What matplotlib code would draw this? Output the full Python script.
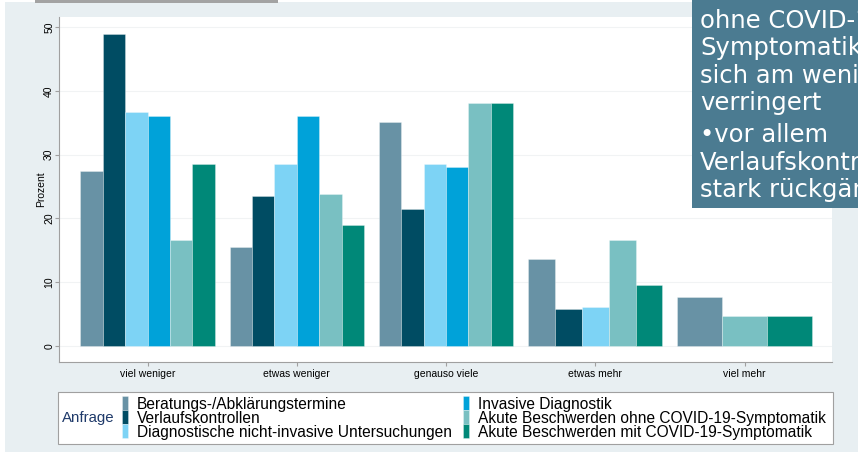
import numpy as np
import matplotlib
matplotlib.use('Agg')
import matplotlib.pyplot as plt
from matplotlib.patches import Rectangle

nan = np.nan
categories = ['viel weniger', 'etwas weniger', 'genauso viele', 'etwas mehr', 'viel mehr']
series_names = ['Beratungs-/Abklärungstermine',
                'Verlaufskontrollen',
                'Diagnostische nicht-invasive Untersuchungen',
                'Invasive Diagnostik',
                'Akute Beschwerden ohne COVID-19-Symptomatik',
                'Akute Beschwerden mit COVID-19-Symptomatik']
beratung = [27.4, 15.6, 35.2, 13.6, 7.7]
verlauf = [49.0, 23.5, 21.5, 5.8, nan]
diagnostik = [36.7, 28.5, 28.5, 6.1, nan]
invasiv = [36.0, 36.0, 28.0, nan, nan]
akut_ohne = [16.6, 23.8, 38.1, 16.6, 4.7]
akut_mit = [28.5, 19.0, 38.1, 9.5, 4.7]
yticks = [0, 10, 20, 30, 40, 50]
legend_title = 'Anfrage'
ylabel = 'Prozent'
overlay_lines = ['ohne COVID-19-', 'Symptomatik', 'sich am wenigsten', 'verringert',
                 '\u2022vor allem', 'Verlaufskontrollen', 'stark rückgängig']

colors = ['#6892a5', '#004c63', '#7dd3f5', '#00a2d9', '#79c0c2', '#008878']
all_series = [beratung, verlauf, diagnostik, invasiv, akut_ohne, akut_mit]

W, H = 858, 454
fig = plt.figure(figsize=(W / 100, H / 100), dpi=100)
fig.patch.set_facecolor('white')

def fx(px):
    return px / W

def fy(py):
    return 1 - py / H

# background panels
fig.add_artist(Rectangle((fx(5), fy(452)), fx(853), 450 / H, transform=fig.transFigure,
                         facecolor='#e8eff2', edgecolor='none', zorder=0))
fig.add_artist(Rectangle((fx(35), fy(2.5)), fx(243), 2.5 / H, transform=fig.transFigure,
                         facecolor='#a3a3a3', edgecolor='none', zorder=0))

ax = fig.add_axes([fx(59), fy(362), fx(832 - 59), (362 - 17) / H])
ax.set_facecolor('white')

# bars: groups drop missing categories and share the group width
group_w = 0.9
xs_by_series = [[] for _ in all_series]
vs_by_series = [[] for _ in all_series]
ws_by_series = [[] for _ in all_series]
for gi in range(len(categories)):
    present = [si for si, s in enumerate(all_series) if not np.isnan(s[gi])]
    w = group_w / len(present)
    for k, si in enumerate(present):
        xs_by_series[si].append(gi - group_w / 2 + w * (k + 0.5))
        vs_by_series[si].append(all_series[si][gi])
        ws_by_series[si].append(w)

handles = []
for si, name in enumerate(series_names):
    b = ax.bar(xs_by_series[si], vs_by_series[si], width=ws_by_series[si],
               color=colors[si], edgecolor=(1, 1, 1, 0.35), linewidth=0.6,
               label=name, zorder=3)
    handles.append(b)

ax.set_xlim(-0.593, len(categories) - 1 + 0.586)
ax.set_ylim(-2.51, 51.6)
ax.set_yticks(yticks)
ax.set_xticks(range(len(categories)))
ax.set_xticklabels(categories)
ax.grid(axis='y', color='#f1f3f4', linewidth=0.8, zorder=0)
ax.set_axisbelow(True)
for s in ['top', 'right']:
    ax.spines[s].set_visible(False)
for s in ['left', 'bottom']:
    ax.spines[s].set_color('#a0a0a0')
    ax.spines[s].set_linewidth(0.8)
ax.tick_params(axis='both', length=3, color='#a0a0a0', width=0.8)
ax.tick_params(axis='x', labelsize=7.5, pad=2)
ax.tick_params(axis='y', labelsize=7.5, pad=0.5, labelrotation=90)
for lab in ax.get_yticklabels():
    lab.set_fontfamily('Liberation Sans')
    lab.set_va('center')
for lab in ax.get_xticklabels():
    lab.set_fontfamily('Liberation Sans')
ax.set_ylabel(ylabel, fontsize=7.5, family='Liberation Sans')
ax.yaxis.set_label_coords(-0.0168, 0.5)

# legend
fig.add_artist(Rectangle((fx(58), fy(444)), fx(833 - 58), (444 - 392) / H,
                         transform=fig.transFigure, facecolor='white',
                         edgecolor='#a0a0a0', linewidth=0.8, zorder=1))
fig.text(fx(62), fy(418), legend_title, fontsize=10.8, family='Liberation Sans',
         color='#1f3a6a', va='center', ha='left', zorder=5)
leg = fig.legend(handles=handles, labels=series_names, ncol=2, loc='center left',
                 bbox_to_anchor=(fx(122), fy(418)), frameon=False,
                 prop={'family': 'Liberation Sans', 'size': 11.2},
                 handlelength=0.39, handleheight=1.0, handletextpad=0.58,
                 columnspacing=0.7, labelspacing=-0.08, borderpad=0, borderaxespad=0)
leg.set_zorder(5)

# overlay box
fig.add_artist(Rectangle((fx(692), fy(208)), fx(858 - 692), 208 / H,
                         transform=fig.transFigure, facecolor='#4b7b91',
                         edgecolor='none', zorder=6))
baselines = [28, 55, 83, 110, 142, 170, 197]
for line, b in zip(overlay_lines, baselines):
    fig.text(fx(700), fy(b), line, fontsize=17.5, family='DejaVu Sans', color='white',
             va='baseline', ha='left', zorder=7)

fig.savefig('out.png', dpi=100, facecolor=fig.get_facecolor())
